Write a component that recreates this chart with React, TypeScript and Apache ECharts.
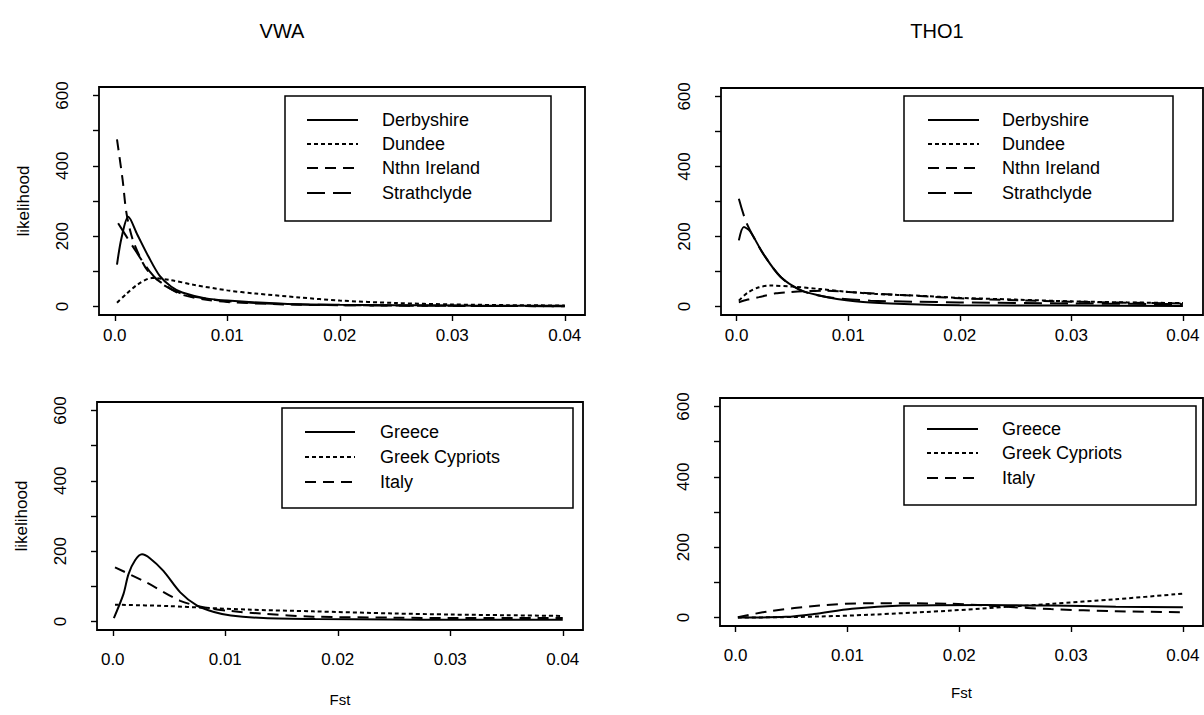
import React, { useEffect, useRef } from 'react';
import * as echarts from 'echarts';

// ---------- data ----------
const panelTitles = ['VWA', 'THO1'];
const xAxisName = 'Fst';
const yAxisName = 'likelihood';
const ukNames = ['Derbyshire', 'Dundee', 'Nthn Ireland', 'Strathclyde'];
const medNames = ['Greece', 'Greek Cypriots', 'Italy'];
const xTicks = [0, 0.01, 0.02, 0.03, 0.04];
const yTicks = [0, 100, 200, 300, 400, 500, 600];
const yLabels = [0, 200, 400, 600];

// VWA, UK populations
const vwaDerbyshire = [[0.0002, 119], [0.0006, 195], [0.0012, 255], [0.002, 205], [0.003, 142], [0.004, 87], [0.005, 57], [0.006, 40], [0.008, 24], [0.01, 17], [0.015, 8], [0.02, 5], [0.025, 4], [0.03, 3], [0.035, 2], [0.04, 2]];
const vwaDundee = [[0.0002, 11], [0.001, 35], [0.002, 62], [0.0033, 81], [0.005, 75], [0.007, 62], [0.01, 46], [0.0125, 37], [0.0164, 26], [0.02, 17], [0.025, 10], [0.03, 6], [0.035, 4], [0.04, 3]];
const vwaNthnIreland = [[0.0002, 475], [0.0007, 360], [0.00104, 266], [0.0016, 190], [0.0025, 124], [0.0031, 95], [0.004, 71], [0.0058, 36], [0.008, 20], [0.01, 13], [0.015, 6], [0.02, 4], [0.03, 2], [0.04, 1]];
const vwaStrathclyde = [[0.0003, 237], [0.0016, 171], [0.0031, 100], [0.0043, 62], [0.006, 36], [0.0076, 25], [0.01, 15], [0.015, 7], [0.02, 4], [0.03, 2], [0.04, 1]];

// THO1, UK populations
const thoDerbyshire = [[0.0002, 189], [0.00065, 227], [0.0012, 215], [0.0024, 150], [0.0039, 86], [0.0057, 48], [0.0075, 31], [0.009, 22], [0.012, 12], [0.0164, 6], [0.02, 4], [0.03, 3], [0.04, 2]];
const thoDundee = [[0.0002, 17], [0.001, 40], [0.002, 55], [0.003, 60], [0.005, 57], [0.0075, 50], [0.01, 42], [0.0125, 36], [0.0164, 31], [0.02, 25], [0.025, 20], [0.03, 15], [0.035, 12], [0.04, 10]];
const thoNthnIreland = [[0.0002, 12], [0.001, 20], [0.002, 27], [0.0035, 38], [0.0045, 41], [0.006, 44], [0.008, 45], [0.01, 42], [0.013, 36], [0.0164, 30], [0.02, 24], [0.025, 18], [0.03, 14], [0.035, 11], [0.04, 9]];
const thoStrathclyde = [[0.0002, 308], [0.0008, 246], [0.0015, 200], [0.0025, 145], [0.004, 83], [0.0057, 47], [0.0075, 31], [0.009, 24], [0.012, 17], [0.016, 14], [0.02, 12], [0.03, 9], [0.04, 7]];

// VWA, Mediterranean populations
const vwaGreece = [[0.0001, 10], [0.00095, 78], [0.0014, 135], [0.002, 175], [0.0026, 191], [0.0033, 180], [0.0045, 144], [0.006, 83], [0.0075, 45], [0.009, 27], [0.0105, 17], [0.0134, 10], [0.018, 7], [0.025, 6], [0.03, 5], [0.04, 5]];
const vwaGreekCypriots = [[0.0002, 48], [0.005, 44], [0.0083, 39], [0.012, 34], [0.0178, 29], [0.025, 23], [0.03, 20], [0.035, 18], [0.04, 16]];
const vwaItaly = [[0.0002, 154], [0.003, 111], [0.006, 59], [0.0083, 39], [0.0105, 30], [0.0134, 22], [0.0178, 14], [0.025, 11], [0.03, 10], [0.04, 10]];

// THO1, Mediterranean populations
const thoGreece = [[0.0002, 0], [0.0045, 2], [0.007, 10], [0.0104, 25], [0.0149, 34], [0.0223, 36], [0.0282, 34], [0.034, 31], [0.04, 29]];
const thoGreekCypriots = [[0.0002, 0], [0.004, 1], [0.0075, 3], [0.012, 8], [0.0193, 20], [0.0282, 39], [0.034, 52], [0.04, 68]];
const thoItaly = [[0.0002, 1], [0.003, 18], [0.0075, 34], [0.0119, 41], [0.0193, 39], [0.024, 31], [0.0282, 24], [0.034, 18], [0.04, 15]];

// ---------- styling / layout ----------
const FONT = '"Liberation Sans", Arial, Helvetica, sans-serif';
const DASHES: any[] = ['solid', [4, 3], [11, 7], [18, 8]];

const panels = [
  {
    grid: { left: 99, top: 87, width: 486, height: 228 },
    names: ukNames,
    data: [vwaDerbyshire, vwaDundee, vwaNthnIreland, vwaStrathclyde],
    xMargin: 12, showY: true, showX: false, xNameGap: 0,
    legend: { x: 285, y: 96, w: 266, h: 125, lx1: 307, lx2: 358, tx: 382, rows: [120, 144, 168, 193] },
  },
  {
    grid: { left: 721, top: 88, width: 482, height: 227 },
    names: ukNames,
    data: [thoDerbyshire, thoDundee, thoNthnIreland, thoStrathclyde],
    xMargin: 12, showY: false, showX: false, xNameGap: 0,
    legend: { x: 904, y: 96, w: 269, h: 125, lx1: 928, lx2: 979, tx: 1002, rows: [120, 144, 168, 193] },
  },
  {
    grid: { left: 97, top: 402, width: 486, height: 228 },
    names: medNames,
    data: [vwaGreece, vwaGreekCypriots, vwaItaly],
    xMargin: 21, showY: true, showX: true, xNameGap: 62,
    legend: { x: 282, y: 408, w: 291, h: 100, lx1: 305, lx2: 355, tx: 380, rows: [432, 457, 482] },
  },
  {
    grid: { left: 720, top: 398, width: 483, height: 228 },
    names: medNames,
    data: [thoGreece, thoGreekCypriots, thoItaly],
    xMargin: 21, showY: false, showX: true, xNameGap: 59,
    legend: { x: 904, y: 406, w: 292, h: 99, lx1: 927, lx2: 978, tx: 1002, rows: [429, 453, 478] },
  },
];

const titlePos = [
  { x: 282, y: 31 },
  { x: 937, y: 31 },
];

function buildOption() {
  const grid = panels.map((p) => ({
    ...p.grid,
    show: true,
    borderColor: '#000',
    borderWidth: 1.8,
    backgroundColor: 'transparent',
  }));

  const xAxis = panels.map((p, i) => ({
    type: 'value',
    gridIndex: i,
    position: 'bottom',
    min: -0.0014,
    max: 0.0418,
    axisLine: { show: false, onZero: false },
    splitLine: { show: false },
    axisTick: { show: true, customValues: xTicks, length: 6, lineStyle: { color: '#000', width: 1.4 } },
    axisLabel: {
      customValues: xTicks,
      margin: p.xMargin,
      color: '#000',
      fontSize: 17,
      fontFamily: FONT,
      formatter: (v: number) => (v === 0 ? '0.0' : v.toFixed(2)),
    },
    name: p.showX ? xAxisName : '',
    nameLocation: 'middle',
    nameGap: p.xNameGap,
    nameTextStyle: { color: '#000', fontSize: 15, fontFamily: FONT },
  }));

  const yAxis = panels.map((p, i) => ({
    type: 'value',
    gridIndex: i,
    position: 'left',
    min: -24,
    max: 624,
    axisLine: { show: false, onZero: false },
    splitLine: { show: false },
    axisTick: { show: true, customValues: yTicks, length: 6, lineStyle: { color: '#000', width: 1.4 } },
    axisLabel: {
      customValues: yLabels,
      rotate: 90,
      margin: 28,
      color: '#000',
      fontSize: 17,
      fontFamily: FONT,
      formatter: (v: number) => String(v),
    },
    name: p.showY ? yAxisName : '',
    nameLocation: 'middle',
    nameRotate: 90,
    nameGap: 67,
    nameTextStyle: { color: '#000', fontSize: 17, fontFamily: FONT },
  }));

  const series: any[] = [];
  panels.forEach((p, i) => {
    p.data.forEach((d, j) => {
      series.push({
        type: 'line',
        name: p.names[j],
        xAxisIndex: i,
        yAxisIndex: i,
        data: d,
        symbol: 'none',
        smooth: 0.3,
        silent: true,
        lineStyle: { color: '#000', width: 2, type: DASHES[j] },
      });
    });
  });

  const graphic: any[] = [];
  panelTitles.forEach((t, i) => {
    graphic.push({
      type: 'text',
      x: titlePos[i].x,
      y: titlePos[i].y,
      z: 100,
      style: { text: t, fill: '#000', font: `20px ${FONT}`, align: 'center', verticalAlign: 'middle' },
    });
  });
  panels.forEach((p) => {
    const L = p.legend;
    graphic.push({
      type: 'rect',
      z: 100,
      shape: { x: L.x, y: L.y, width: L.w, height: L.h },
      style: { fill: '#fff', stroke: '#000', lineWidth: 1.5 },
    });
    p.names.forEach((n, j) => {
      const dash = DASHES[j];
      graphic.push({
        type: 'line',
        z: 101,
        shape: { x1: L.lx1, y1: L.rows[j], x2: L.lx2, y2: L.rows[j] },
        style: { stroke: '#000', lineWidth: 2, lineDash: dash === 'solid' ? null : dash },
      });
      graphic.push({
        type: 'text',
        z: 101,
        x: L.tx,
        y: L.rows[j],
        style: { text: n, fill: '#000', font: `18px ${FONT}`, align: 'left', verticalAlign: 'middle' },
      });
    });
  });

  return { animation: false, backgroundColor: '#fff', grid, xAxis, yAxis, series, graphic };
}

export default function App() {
  const ref = useRef<HTMLDivElement>(null);
  useEffect(() => {
    if (!ref.current) return;
    const chart = echarts.init(ref.current, undefined, { renderer: 'svg' });
    chart.setOption(buildOption() as any);
    return () => chart.dispose();
  }, []);
  return (
    <div
      ref={ref}
      style={{ position: 'absolute', left: 0, top: 0, width: 1204, height: 715, background: '#fff' }}
    />
  );
}
